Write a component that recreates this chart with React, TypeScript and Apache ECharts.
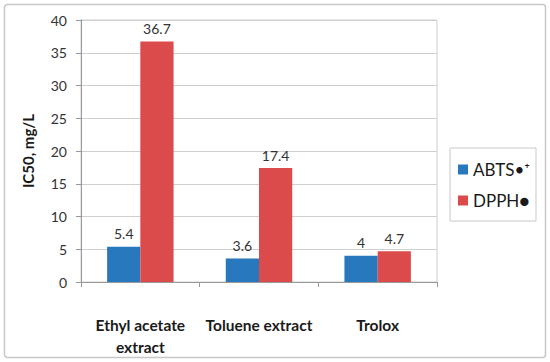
import React, { useEffect, useRef } from "react";
import * as echarts from "echarts";

const categories = ["Ethyl acetate\nextract", "Toluene extract", "Trolox"];
const abts = [5.4, 3.6, 4];
const dpph = [36.7, 17.4, 4.7];
const seriesNames = ["ABTS\u2022\u207A", "DPPH\u25CF"];

export default function App() {
  const ref = useRef<HTMLDivElement>(null);
  useEffect(() => {
    const chart = echarts.init(ref.current!, null, { renderer: "svg" });
    const font = "Lato, 'Open Sans', sans-serif";
    chart.setOption({
      animation: false,
      textStyle: { fontFamily: font },
      graphic: [
        {
          type: "rect",
          shape: { x: 4.5, y: 4.5, width: 541, height: 353, r: 3 },
          style: { fill: "none", stroke: "#c8c8c8", lineWidth: 1.5 },
          silent: true,
        },
      ],
      grid: {
        left: 81,
        right: 113,
        top: 20,
        bottom: 80,
        show: true,
        borderColor: "#cfcfcf",
        borderWidth: 1,
      },
      legend: {
        orient: "vertical",
        left: 450,
        top: 148,
        itemWidth: 10,
        itemHeight: 10,
        itemGap: 14,
        padding: [13, 6, 12, 8],
        borderColor: "#c8c8c8",
        borderWidth: 1,
        icon: "rect",
        textStyle: { fontSize: 17, color: "#1a1a1a", fontFamily: font },
        data: seriesNames,
      },
      xAxis: {
        type: "category",
        data: categories,
        axisLine: { lineStyle: { color: "#999" } },
        axisTick: { show: true, length: 5, lineStyle: { color: "#999" } },
        axisLabel: {
          interval: 0,
          fontSize: 15.5,
          fontWeight: "bold",
          color: "#1a1a1a",
          margin: 32,
          lineHeight: 22,
          fontFamily: font,
        },
      },
      yAxis: {
        type: "value",
        min: 0,
        max: 40,
        interval: 5,
        name: "IC50, mg/L",
        nameLocation: "middle",
        nameGap: 46,
        nameTextStyle: { fontSize: 15, fontWeight: "bold", color: "#1a1a1a", fontFamily: font },
        axisLine: { show: true, lineStyle: { color: "#999" } },
        axisTick: { show: true, length: 5, lineStyle: { color: "#999" } },
        axisLabel: { fontSize: 14, color: "#333", margin: 14, fontFamily: font },
        splitLine: { lineStyle: { color: "#cfcfcf" } },
      },
      series: [
        {
          name: seriesNames[0],
          type: "bar",
          data: abts,
          barGap: "0%",
          barCategoryGap: "44%",
          itemStyle: { color: "#2878be" },
          label: { show: true, position: "top", distance: 6, fontSize: 14, color: "#333", fontFamily: font },
        },
        {
          name: seriesNames[1],
          type: "bar",
          data: dpph,
          itemStyle: { color: "#db4b4b" },
          label: { show: true, position: "top", distance: 6, fontSize: 14, color: "#333", fontFamily: font },
        },
      ],
    });
    return () => chart.dispose();
  }, []);
  return (
    <div
      ref={ref}
      style={{ position: "absolute", left: 0, top: 0, width: 550, height: 362, background: "#fff" }}
    />
  );
}
